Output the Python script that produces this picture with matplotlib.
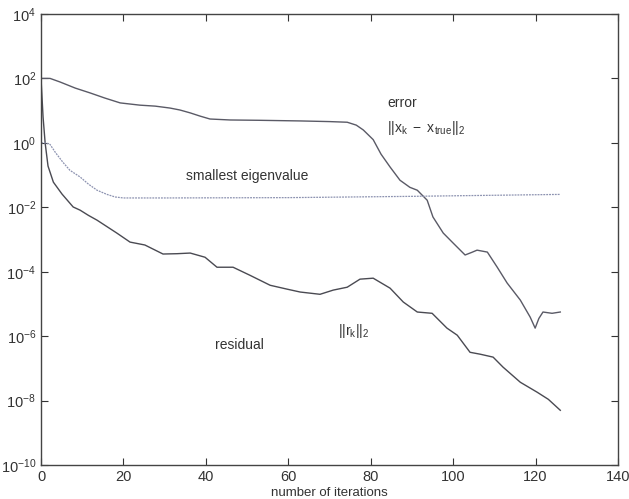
import matplotlib
matplotlib.use('Agg')
import matplotlib.pyplot as plt
import numpy as np

plt.rcParams['font.family'] = ['Liberation Sans', 'DejaVu Sans']
plt.rcParams['mathtext.fontset'] = 'custom'
plt.rcParams['mathtext.rm'] = 'Liberation Sans'
plt.rcParams['mathtext.it'] = 'Liberation Sans'

# error ||x_k - x_true||_2  (x, log10 value)
err_x = [0, 2.2, 4.6, 8.3, 11.9, 15.5, 19.2, 24.0, 27.7, 31.3, 33.7, 36.2, 38.6,
         41.0, 45.9, 53, 63, 70, 74.3, 76.5, 78.2, 80.6, 82.5, 84.7, 87.1, 89.5,
         91.3, 93.7, 95.1, 97.6, 100, 102.9, 104.5, 105.8, 108.3, 110.7, 113.1,
         116.3, 118.7, 119.9, 120.8, 121.8, 124, 126]
err_log = [2.0, 2.0, 1.89, 1.70, 1.55, 1.39, 1.24, 1.17, 1.14, 1.08, 1.02, 0.93, 0.83,
           0.74, 0.71, 0.70, 0.68, 0.66, 0.64, 0.55, 0.40, 0.10, -0.35, -0.75, -1.16,
           -1.38, -1.47, -1.78, -2.30, -2.80, -3.11, -3.48, -3.40, -3.33, -3.39,
           -3.86, -4.35, -4.88, -5.41, -5.75, -5.45, -5.25, -5.29, -5.25]

# smallest eigenvalue
eig_x = [0, 1, 2.2, 3.5, 5.3, 7, 9.5, 11.5, 13.6, 16, 18, 20, 30, 60, 90, 126]
eig_log = [0.0, 0.0, -0.05, -0.3, -0.6, -0.85, -1.06, -1.28, -1.47, -1.6, -1.68,
           -1.71, -1.71, -1.70, -1.66, -1.60]

# residual ||r_k||_2
res_x = [0, 0.5, 1.0, 1.7, 3.0, 5.1, 7.8, 9.5, 11.5, 13.6, 16, 18.4, 21.6, 25.2,
         29.6, 33, 36.2, 39.8, 42.7, 46.6, 50.7, 55.6, 59.7, 62.9, 67.7, 70.9,
         74.3, 77.4, 80.6, 84.7, 87.9, 91.3, 94.9, 98.5, 101, 104.1, 106.6, 109.7,
         112.1, 116.3, 120.4, 123.1, 126]
res_log = [2.0, 0.8, 0.0, -0.72, -1.22, -1.59, -1.99, -2.09, -2.25, -2.40, -2.6,
           -2.80, -3.08, -3.17, -3.45, -3.44, -3.42, -3.55, -3.86, -3.86, -4.11,
           -4.42, -4.54, -4.63, -4.70, -4.57, -4.48, -4.23, -4.20, -4.51, -4.94,
           -5.25, -5.29, -5.75, -5.97, -6.50, -6.56, -6.65, -6.96, -7.43, -7.74,
           -7.96, -8.30]

fig = plt.figure(figsize=(6.29, 4.99), dpi=100)
ax = fig.add_axes([0.0652, 0.068, 0.9173, 0.904])

ax.semilogy(err_x, 10.0 ** np.array(err_log), color='#5a5a66', lw=1.0)
ax.semilogy(res_x, 10.0 ** np.array(res_log), color='#4a4a52', lw=1.0)
ax.semilogy(eig_x, 10.0 ** np.array(eig_log), color='#8c92b0', lw=0.9,
            linestyle=(0, (1.5, 0.8)))

ax.set_xlim(0, 140)
ax.set_ylim(1e-10, 1e4)
ax.set_xticks(range(0, 141, 20))
ax.set_yticks([10.0 ** k for k in range(-10, 5, 2)])
ax.minorticks_off()
ax.tick_params(direction='in', top=True, right=True, length=5, width=0.8,
               labelsize=10.5, colors='#333333')
for s in ax.spines.values():
    s.set_color('#444444')
    s.set_linewidth(1.0)

ax.set_xlabel('number of iterations', fontsize=9.5, color='#333333', labelpad=2)

tc = '#333333'
ax.text(84, 10 ** 1.24, 'error', fontsize=10, color=tc, va='center')
ax.text(84, 10 ** 0.45, r'$\mathrm{||x_k\ -\ x_{true}||_2}$', fontsize=10,
        color=tc, va='center')
ax.text(35.2, 10 ** -1.03, 'smallest eigenvalue', fontsize=10, color=tc,
        va='center')
ax.text(72, 10 ** -5.85, r'$\mathrm{||r_k||_2}$', fontsize=10, color=tc,
        va='center')
ax.text(42.2, 10 ** -6.28, 'residual', fontsize=10, color=tc, va='center')

plt.savefig('out.png', dpi=100)
plt.close()
